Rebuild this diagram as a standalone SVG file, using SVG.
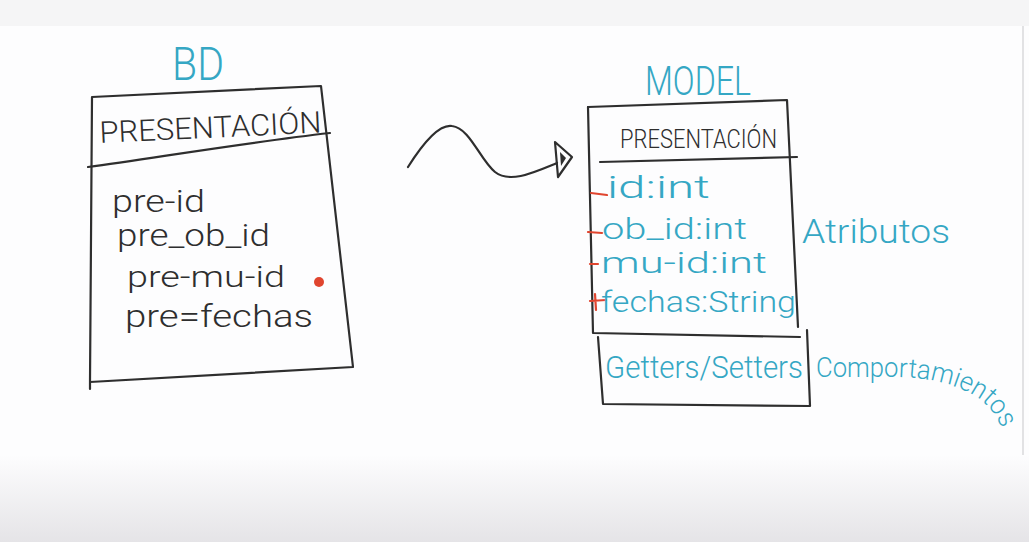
<svg xmlns="http://www.w3.org/2000/svg" width="1029" height="542" viewBox="0 0 1029 542">
<defs>
<linearGradient id="bottomfade" x1="0" y1="0" x2="0" y2="1">
<stop offset="0" stop-color="#fdfdfe"/>
<stop offset="1" stop-color="#e5e4e7"/>
</linearGradient>
<style>
.ink{fill:none;stroke:#2e2e2e;stroke-width:2.2;stroke-linecap:round;stroke-linejoin:round}
.blk{font-family:Roboto,"Liberation Sans",Arial,sans-serif;font-weight:300;fill:#2e2e2e}
.teal{font-family:Roboto,"Liberation Sans",Arial,sans-serif;font-weight:300;fill:#35a7c4}
.red{stroke:#e0452f;stroke-width:2.2;stroke-linecap:round;fill:none}
</style>
</defs>
<rect x="0" y="0" width="1029" height="542" fill="#fdfdfe"/>
<rect x="0" y="0" width="1029" height="26" fill="#f5f5f6"/>
<rect x="0" y="455" width="1029" height="87" fill="url(#bottomfade)"/>
<line x1="1023" y1="26" x2="1023" y2="455" stroke="#e2e2e4" stroke-width="2"/>

<g id="node-bd">
<text class="teal" x="172" y="80" font-size="46" textLength="52" lengthAdjust="spacingAndGlyphs">BD</text>
<path class="ink" d="M92,97 L321,86 L353,367 L90,382 Z M90,382 L90,389"/>
<path class="ink" d="M88,167 C160,157 250,142 330,133"/>
<text class="blk" x="100" y="143" font-size="30" textLength="222" lengthAdjust="spacingAndGlyphs" transform="rotate(-2.7 100 143)">PRESENTACIÓN</text>
<text class="blk" x="112" y="212" font-size="32" textLength="93" lengthAdjust="spacingAndGlyphs">pre-id</text>
<text class="blk" x="117" y="246" font-size="31" textLength="153" lengthAdjust="spacingAndGlyphs">pre_ob_id</text>
<text class="blk" x="127" y="287" font-size="30" textLength="158" lengthAdjust="spacingAndGlyphs">pre-mu-id</text>
<text class="blk" x="125" y="327" font-size="32" textLength="188" lengthAdjust="spacingAndGlyphs">pre=fechas</text>
<circle cx="319" cy="282" r="5" fill="#e0452f"/>
</g>

<g id="connectors">
<path class="ink" d="M408,167 C425,140 440,124 452,126 C470,128 480,160 495,172 C510,184 535,172 557,163"/>
<path class="ink" d="M555,142 L572,157 L558,177 Z" fill="#ffffff"/>
<path d="M560,152 L566,158 L561,166 Z" fill="#2e2e2e"/>
</g>

<g id="node-model">
<text class="teal" x="645" y="95" font-size="40" textLength="106" lengthAdjust="spacingAndGlyphs">MODEL</text>
<path class="ink" d="M588,107 L787,100 L798,327"/>
<path class="ink" d="M588,107 L593,333 L800,337"/>
<path class="ink" d="M598,337 L603,404 L810,406 L807,330"/>
<path class="ink" d="M600,162 C680,160 740,158 797,157"/>
<text class="blk" x="620" y="148" font-size="26" textLength="157" lengthAdjust="spacingAndGlyphs">PRESENTACIÓN</text>
<path class="red" d="M591,193 L607,195"/>
<text class="teal" x="607" y="198" font-size="32" textLength="103" lengthAdjust="spacingAndGlyphs">id:int</text>
<path class="red" d="M588,232 L602,233"/>
<text class="teal" x="602" y="239" font-size="29" textLength="145" lengthAdjust="spacingAndGlyphs">ob_id:int</text>
<path class="red" d="M590,264 L598,264"/>
<text class="teal" x="601" y="273" font-size="29" textLength="166" lengthAdjust="spacingAndGlyphs">mu-id:int</text>
<path class="red" d="M590,301 L606,300 M595,294 L596,310"/>
<text class="teal" x="601" y="312" font-size="29" textLength="195" lengthAdjust="spacingAndGlyphs">fechas:String</text>
<text class="teal" x="605" y="378" font-size="31" textLength="198" lengthAdjust="spacingAndGlyphs">Getters/Setters</text>
</g>

<g id="labels">
<text class="teal" x="802" y="243" font-size="34" textLength="148" lengthAdjust="spacingAndGlyphs">Atributos</text>
<path id="compPath" d="M816,377 L900,377 C930,378 955,384 975,396 C990,405 998,418 1003,432" fill="none"/>
<text class="teal" font-size="27"><textPath href="#compPath" textLength="205" lengthAdjust="spacingAndGlyphs">Comportamientos</textPath></text>
</g>
</svg>
